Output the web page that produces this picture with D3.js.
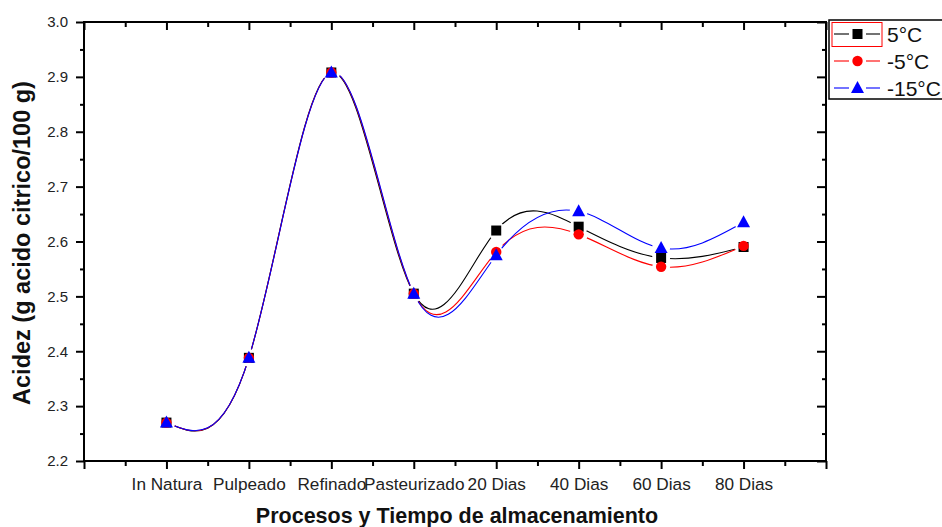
<!DOCTYPE html>
<html lang="es">
  <head>
    <meta charset="UTF-8" />
    <title>Acidez</title>
    <script src="https://cdnjs.cloudflare.com/ajax/libs/d3/7.8.5/d3.min.js"></script>
    <style>
      body, html { margin: 0; padding: 0; background: #fff; }
      svg { display: block; }
      text { font-family: "Liberation Sans", Arial, sans-serif; }
      .tick text { fill: #222; }
    </style>
  </head>
  <body>
    <svg width="942" height="527"></svg>
    <script>
      const categories = ["In Natura", "Pulpeado", "Refinado", "Pasteurizado", "20 Dias", "40 Dias", "60 Dias", "80 Dias"];
      const values5 = [2.27, 2.388, 2.908, 2.505, 2.620, 2.627, 2.570, 2.590];
      const valuesM5 = [2.27, 2.388, 2.908, 2.505, 2.581, 2.613, 2.554, 2.592];
      const valuesM15 = [2.27, 2.388, 2.908, 2.505, 2.575, 2.655, 2.588, 2.635];
      const seriesNames = ["5°C", "-5°C", "-15°C"];
      const yMajor = [2.2, 2.3, 2.4, 2.5, 2.6, 2.7, 2.8, 2.9, 3.0];
      const yMinor = [2.25, 2.35, 2.45, 2.55, 2.65, 2.75, 2.85, 2.95];

      const svg = d3.select("svg");
      const plotL = 84, plotR = 826, plotT = 22, plotB = 461;

      const x = d3.scaleLinear().domain([0, 9]).range([plotL, plotR]);
      const y = d3.scaleLinear().domain([2.2, 3.0]).range([plotB, plotT]);

      const series = [
        { name: seriesNames[0], values: values5, color: "#000", shape: "square" },
        { name: seriesNames[1], values: valuesM5, color: "#f00", shape: "circle" },
        { name: seriesNames[2], values: valuesM15, color: "#00f", shape: "triangle" },
      ];

      const xMajor = d3.range(0, 10);
      const xMinor = d3.range(0.5, 9, 1);

      // axes
      function styleAxis(g) {
        g.select(".domain").remove();
        g.selectAll(".tick line").attr("stroke", "#000").attr("stroke-width", 2);
      }
      svg.append("g").attr("transform", `translate(${plotL},0)`)
        .call(d3.axisLeft(y).tickValues(yMajor).tickSize(8).tickPadding(8).tickFormat(d3.format(".1f")))
        .call(styleAxis)
        .selectAll("text").attr("font-size", 15).attr("font-family", "Liberation Sans, Arial");
      svg.append("g").attr("transform", `translate(${plotL},0)`)
        .call(d3.axisLeft(y).tickValues(yMinor).tickSize(4).tickFormat(""))
        .call(styleAxis);
      svg.append("g").attr("transform", `translate(${plotR},0)`)
        .call(d3.axisRight(y).tickValues(yMajor).tickSize(-9).tickFormat(""))
        .call(styleAxis);
      svg.append("g").attr("transform", `translate(${plotR},0)`)
        .call(d3.axisRight(y).tickValues(yMinor).tickSize(-4).tickFormat(""))
        .call(styleAxis);

      svg.append("g").attr("transform", `translate(0,${plotB})`)
        .call(d3.axisBottom(x).tickValues(xMajor).tickSize(8).tickPadding(9)
          .tickFormat((d) => (d >= 1 && d <= 8 ? categories[d - 1] : "")))
        .call(styleAxis)
        .selectAll("text").attr("font-size", 17.2).attr("font-family", "Liberation Sans, Arial");
      svg.append("g").attr("transform", `translate(0,${plotB})`)
        .call(d3.axisBottom(x).tickValues(xMinor).tickSize(5).tickFormat(""))
        .call(styleAxis);
      svg.append("g").attr("transform", `translate(0,${plotT})`)
        .call(d3.axisTop(x).tickValues(xMajor).tickSize(-8).tickFormat(""))
        .call(styleAxis);
      svg.append("g").attr("transform", `translate(0,${plotT})`)
        .call(d3.axisTop(x).tickValues(xMinor).tickSize(-5).tickFormat(""))
        .call(styleAxis);

      // frame
      svg.append("rect")
        .attr("x", plotL).attr("y", plotT)
        .attr("width", plotR - plotL).attr("height", plotB - plotT)
        .attr("fill", "none").attr("stroke", "#000").attr("stroke-width", 2);

      // axis titles
      svg.append("text")
        .attr("transform", `translate(30,243) rotate(-90)`)
        .attr("text-anchor", "middle")
        .attr("font-weight", "bold").attr("font-size", 23.5).attr("fill", "#111")
        .text("Acidez (g acido citrico/100 g)");
      svg.append("text")
        .attr("x", 457).attr("y", 523)
        .attr("text-anchor", "middle")
        .attr("font-weight", "bold").attr("font-size", 21.5).attr("fill", "#111")
        .text("Procesos y Tiempo de almacenamiento");

      // symbols
      function drawSymbol(g, shape, color, cx, cy) {
        if (shape === "square") {
          g.append("rect").attr("x", cx - 5).attr("y", cy - 5).attr("width", 10).attr("height", 10).attr("fill", color);
        } else if (shape === "circle") {
          g.append("circle").attr("cx", cx).attr("cy", cy).attr("r", 5.2).attr("fill", color);
        } else {
          g.append("path").attr("d", `M${cx},${cy - 7}L${cx + 6.5},${cy + 5}L${cx - 6.5},${cy + 5}Z`).attr("fill", color);
        }
      }

      const defs = svg.append("defs");
      const line = d3.line().x((d, i) => x(i + 1)).y((d) => y(d)).curve(d3.curveNatural);

      series.forEach((s, k) => {
        // gap around own symbols, like the original plotting tool
        const mask = defs.append("mask").attr("id", "gap" + k).attr("maskUnits", "userSpaceOnUse")
          .attr("x", 0).attr("y", 0).attr("width", 942).attr("height", 527);
        mask.append("rect").attr("width", 942).attr("height", 527).attr("fill", "#fff");
        s.values.forEach((v, i) => {
          mask.append("circle").attr("cx", x(i + 1)).attr("cy", y(v)).attr("r", 9).attr("fill", "#000");
        });
        svg.append("path")
          .attr("d", line(s.values))
          .attr("fill", "none")
          .attr("stroke", s.color)
          .attr("stroke-width", 1.1)
          .attr("mask", `url(#gap${k})`);
      });

      series.forEach((s) => {
        const g = svg.append("g");
        s.values.forEach((v, i) => drawSymbol(g, s.shape, s.color, x(i + 1), y(v)));
      });

      // legend
      const lg = svg.append("g");
      lg.append("rect").attr("x", 829).attr("y", 20).attr("width", 120).attr("height", 79)
        .attr("fill", "#fff").attr("stroke", "#000").attr("stroke-width", 1.5);
      lg.append("rect").attr("x", 832).attr("y", 22.5).attr("width", 50).attr("height", 24)
        .attr("fill", "none").attr("stroke", "#f00").attr("stroke-width", 1);
      series.forEach((s, k) => {
        const cy = 34 + k * 27;
        lg.append("line").attr("x1", 834).attr("x2", 849).attr("y1", cy).attr("y2", cy).attr("stroke", s.color).attr("stroke-width", 1.1);
        lg.append("line").attr("x1", 866).attr("x2", 880).attr("y1", cy).attr("y2", cy).attr("stroke", s.color).attr("stroke-width", 1.1);
        drawSymbol(lg, s.shape, s.color, 857.5, cy);
        lg.append("text").attr("x", 887).attr("y", cy + 7.5).attr("font-size", 21).attr("fill", "#111").text(s.name);
      });
    </script>
  </body>
</html>
